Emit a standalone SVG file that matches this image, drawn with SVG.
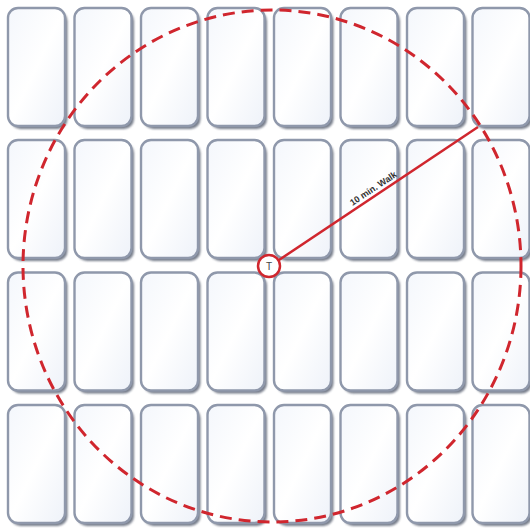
<svg xmlns="http://www.w3.org/2000/svg" xmlns:xlink="http://www.w3.org/1999/xlink" width="530" height="531" viewBox="0 0 530 531">
<style>
.sh{fill:#555d6e;opacity:0.8}
.blk{fill:url(#g);stroke:#8f98ab;stroke-width:2.4}
.ring{fill:none;stroke:#d0262e;stroke-width:3;stroke-dasharray:12 7}
.rad{stroke:#d0262e;stroke-width:2.5}
.lbl{font-family:"Liberation Sans",Arial,sans-serif;font-weight:bold;font-size:9px;fill:#333}
</style>
<defs>
<linearGradient id="g" x1="0" y1="0" x2="1" y2="1">
<stop offset="0" stop-color="#f4f7fc"/>
<stop offset="0.5" stop-color="#ffffff"/>
<stop offset="1" stop-color="#eef2f9"/>
</linearGradient>
<filter id="blur" x="-10%" y="-10%" width="120%" height="120%"><feGaussianBlur stdDeviation="1.2"/></filter>
<g id="b"><rect class="sh" x="2.5" y="3" width="57" height="118" rx="10" filter="url(#blur)"/><rect class="blk" x="0" y="0" width="57" height="118" rx="10"/></g>
</defs>
<rect width="530" height="531" fill="#ffffff"/>
<g id="blocks">
<g id="r1c1"><use xlink:href="#b" x="8" y="8"/></g>
<g id="r1c2"><use xlink:href="#b" x="74.5" y="8"/></g>
<g id="r1c3"><use xlink:href="#b" x="141" y="8"/></g>
<g id="r1c4"><use xlink:href="#b" x="207.5" y="8"/></g>
<g id="r1c5"><use xlink:href="#b" x="274" y="8"/></g>
<g id="r1c6"><use xlink:href="#b" x="340.5" y="8"/></g>
<g id="r1c7"><use xlink:href="#b" x="407" y="8"/></g>
<g id="r1c8"><use xlink:href="#b" x="472.5" y="8"/></g>
<g id="r2c1"><use xlink:href="#b" x="8" y="140"/></g>
<g id="r2c2"><use xlink:href="#b" x="74.5" y="140"/></g>
<g id="r2c3"><use xlink:href="#b" x="141" y="140"/></g>
<g id="r2c4"><use xlink:href="#b" x="207.5" y="140"/></g>
<g id="r2c5"><use xlink:href="#b" x="274" y="140"/></g>
<g id="r2c6"><use xlink:href="#b" x="340.5" y="140"/></g>
<g id="r2c7"><use xlink:href="#b" x="407" y="140"/></g>
<g id="r2c8"><use xlink:href="#b" x="472.5" y="140"/></g>
<g id="r3c1"><use xlink:href="#b" x="8" y="272.5"/></g>
<g id="r3c2"><use xlink:href="#b" x="74.5" y="272.5"/></g>
<g id="r3c3"><use xlink:href="#b" x="141" y="272.5"/></g>
<g id="r3c4"><use xlink:href="#b" x="207.5" y="272.5"/></g>
<g id="r3c5"><use xlink:href="#b" x="274" y="272.5"/></g>
<g id="r3c6"><use xlink:href="#b" x="340.5" y="272.5"/></g>
<g id="r3c7"><use xlink:href="#b" x="407" y="272.5"/></g>
<g id="r3c8"><use xlink:href="#b" x="472.5" y="272.5"/></g>
<g id="r4c1"><use xlink:href="#b" x="8" y="405"/></g>
<g id="r4c2"><use xlink:href="#b" x="74.5" y="405"/></g>
<g id="r4c3"><use xlink:href="#b" x="141" y="405"/></g>
<g id="r4c4"><use xlink:href="#b" x="207.5" y="405"/></g>
<g id="r4c5"><use xlink:href="#b" x="274" y="405"/></g>
<g id="r4c6"><use xlink:href="#b" x="340.5" y="405"/></g>
<g id="r4c7"><use xlink:href="#b" x="407" y="405"/></g>
<g id="r4c8"><use xlink:href="#b" x="472.5" y="405"/></g>
</g>
<g id="connectors">
<ellipse class="ring" cx="272" cy="266" rx="249" ry="256"/>
<line class="rad" x1="270" y1="266" x2="478" y2="127"/>
<text class="lbl" x="375" y="191" text-anchor="middle" transform="rotate(-33.7 375 191)">10 min. Walk</text>
</g>
<g id="transit">
<circle cx="269" cy="266" r="11" fill="#ffffff" stroke="#d0262e" stroke-width="2.5"/>
<text x="269" y="270" text-anchor="middle" font-family="Liberation Sans,Arial,sans-serif" font-size="10" fill="#444">T</text>
</g>
</svg>
